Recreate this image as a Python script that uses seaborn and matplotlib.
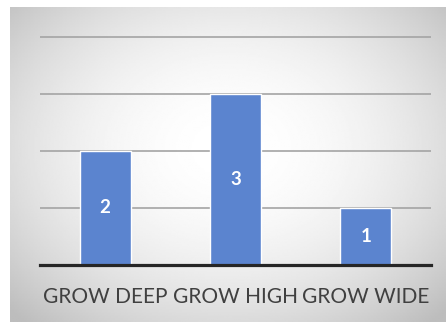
import numpy as np
import pandas as pd
import matplotlib
matplotlib.use("Agg")
import matplotlib.pyplot as plt
import seaborn as sns

categories = ["GROW DEEP", "GROW HIGH", "GROW WIDE"]
values = [2, 3, 1]
gridlines = [1, 2, 3, 4]

sns.set_theme(style="white")
plt.rcParams["font.family"] = ["Lato", "DejaVu Sans"]

W, H = 446, 325
fig = plt.figure(figsize=(W / 100, H / 100), dpi=100)
fig.patch.set_facecolor("white")

# soft radial-gradient backdrop panel
bg = fig.add_axes([10 / W, 3 / H, 436 / W, 315 / H], zorder=-1)
yy, xx = np.mgrid[0:1:200j, 0:1:300j]
r2 = ((xx - 0.5) / 0.75) ** 2 + ((yy - 0.45) / 0.8) ** 2
shade = np.clip(1.0 - 0.3 * r2, 0.74, 1)
bg.imshow(shade, cmap="gray", vmin=0, vmax=1, aspect="auto",
          extent=[0, 1, 0, 1], interpolation="bilinear")
bg.set_axis_off()

unit = (265 - 36.7) / 4
ymax = 4.05
ax = fig.add_axes([40 / W, 60 / H, 391 / W, ymax * unit / H])
ax.patch.set_alpha(0)

df = pd.DataFrame({"category": categories, "value": values})
sns.barplot(data=df, x="category", y="value", color="#5B84CF",
            saturation=1, width=0.39, ax=ax, zorder=3)

ax.set_xlim(-0.5, 2.5)
ax.set_ylim(0, ymax)
ax.set_yticks(gridlines)
ax.set_yticklabels([])
ax.yaxis.grid(True, color="#a4a4a4", linewidth=1.2, zorder=1)
ax.set_axisbelow(True)
ax.tick_params(axis="y", length=0)
ax.tick_params(axis="x", length=0, pad=16, labelsize=15, labelcolor="#404040")
ax.set_xlabel("")
ax.set_ylabel("")
for side in ["top", "left", "right"]:
    ax.spines[side].set_visible(False)
ax.spines["bottom"].set_color("#262626")
ax.spines["bottom"].set_linewidth(2.3)
ax.spines["bottom"].set_zorder(5)

for i, v in enumerate(values):
    ax.text(i, v / 2, str(v), ha="center", va="center", color="white",
            fontsize=13.5, fontweight="bold", zorder=6)

fig.savefig("out.png", dpi=100)
